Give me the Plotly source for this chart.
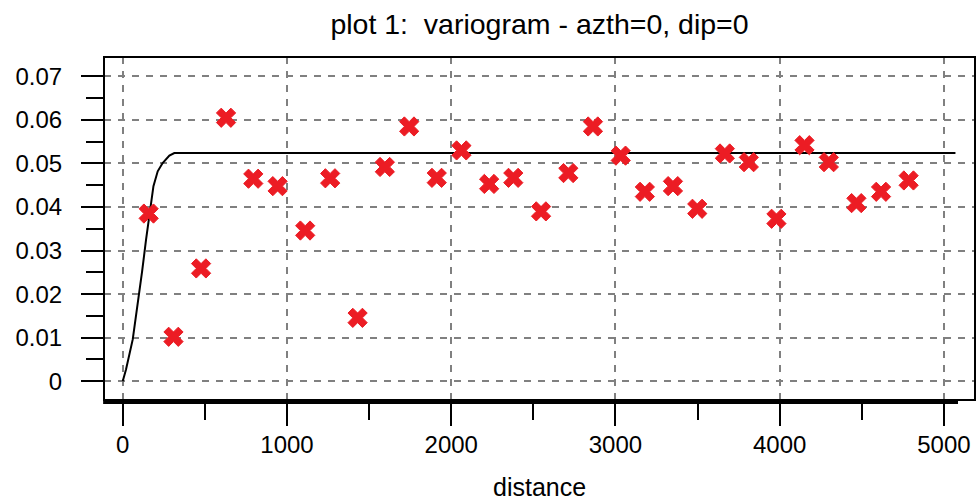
import plotly.graph_objects as go

# experimental variogram points (lag distance, gamma)
lag_distance = [158, 309, 477, 629, 795, 943, 1111, 1263, 1430, 1596,
                1744, 1912, 2062, 2231, 2378, 2547, 2713, 2863, 3032, 3179,
                3350, 3498, 3666, 3812, 3980, 4151, 4299, 4467, 4617, 4785]
gamma = [0.0385, 0.0102, 0.0259, 0.0605, 0.0465, 0.0448, 0.0346, 0.0466, 0.01455, 0.0492,
         0.0585, 0.0467, 0.0530, 0.0453, 0.0467, 0.0390, 0.0478, 0.0585, 0.0518, 0.0435,
         0.0448, 0.0396, 0.0523, 0.0503, 0.0373, 0.0542, 0.0503, 0.0409, 0.0435, 0.0461]

# fitted model curve
model_distance = [0, 20, 61, 97, 118, 142, 167, 187, 213, 243, 284, 314, 5070]
model_gamma = [0.0, 0.0027, 0.0096, 0.0188, 0.0252, 0.0325, 0.0394, 0.0448, 0.0482,
               0.0501, 0.0518, 0.0524, 0.0524]

title_text = "plot 1:  variogram - azth=0, dip=0"
x_label = "distance"
x_ticks = [0, 1000, 2000, 3000, 4000, 5000]
y_ticks = [0, 0.01, 0.02, 0.03, 0.04, 0.05, 0.06, 0.07]
y_ticktext = ["0", "0.01", "0.02", "0.03", "0.04", "0.05", "0.06", "0.07"]

FONT = "Liberation Sans, Arial, sans-serif"

fig = go.Figure()
fig.add_trace(go.Scatter(x=model_distance, y=model_gamma, mode="lines",
                         line=dict(color="black", width=2), hoverinfo="skip",
                         showlegend=False))
fig.add_trace(go.Scatter(x=lag_distance, y=gamma, mode="markers",
                         marker=dict(symbol="x", size=17, color="#ec1c24",
                                     line=dict(color="#ec1c24", width=1)),
                         showlegend=False))

grid = dict(showgrid=True, gridcolor="#808080", gridwidth=2, griddash="7px,7px",
            zeroline=False)

fig.update_xaxes(range=[-114, 5189], tickvals=x_ticks, ticks="outside", ticklen=25,
                 tickwidth=2, tickcolor="black", showline=False,
                 minor=dict(dtick=500, tick0=0, ticks="outside", ticklen=19, tickwidth=2,
                            tickcolor="black", showgrid=False),
                 tickfont=dict(family=FONT, size=24, color="black"),
                 ticklabelstandoff=-2, **grid)
fig.update_yaxes(range=[-0.004315, 0.074453], tickvals=y_ticks, ticktext=y_ticktext,
                 ticks="outside", ticklen=22, tickwidth=2, tickcolor="black", showline=False,
                 minor=dict(dtick=0.005, tick0=0, ticks="outside", ticklen=17, tickwidth=2,
                            tickcolor="black", showgrid=False),
                 tickfont=dict(family=FONT, size=24, color="black"),
                 ticklabelstandoff=14, **grid)

# plot frame and offset x axis line
fig.add_shape(type="rect", xref="paper", yref="paper", x0=0, x1=1, y0=0, y1=1,
              line=dict(color="black", width=2), layer="above")
fig.add_shape(type="line", xref="paper", yref="paper", x0=-0.001, x1=0.9805,
              y0=-0.007, y1=-0.007, line=dict(color="black", width=3), layer="above")

fig.add_annotation(text=x_label, xref="paper", yref="paper", x=0.5, y=-0.300,
                   showarrow=False, yanchor="bottom",
                   font=dict(family=FONT, size=25, color="black"))

fig.update_layout(
    width=977, height=504,
    margin=dict(l=104, r=2, t=57, b=104),
    paper_bgcolor="white", plot_bgcolor="white",
    title=dict(text=title_text, x=0.5, xref="paper", xanchor="center",
               y=1 - 24 / 504, yref="container", yanchor="middle",
               font=dict(family=FONT, size=28.5, color="black")),
    showlegend=False,
)

fig.write_html("out.html", config={"displayModeBar": False},
               post_script="document.body.style.margin='0';")
